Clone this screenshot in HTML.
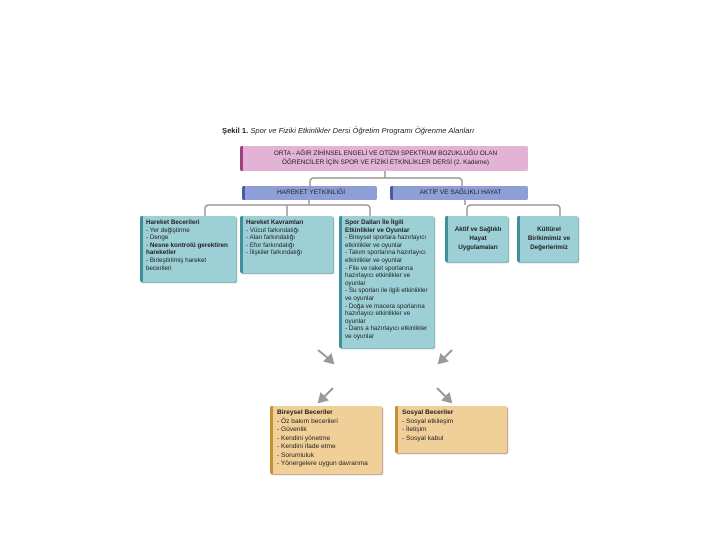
<!DOCTYPE html>
<html><head><meta charset="utf-8"><style>
body{margin:0;width:720px;height:540px;background:#fff;position:relative;font-family:"Liberation Sans",sans-serif;overflow:hidden}
.b{position:absolute;box-sizing:border-box;font-size:6.3px;line-height:7.6px;color:#222;border-radius:2px}
.t{background:#9ccfd6;border-left:3px solid #3f8f9a;box-shadow:1px 1px 1px #7aa;padding:3px 3px}
.o{background:#f1cf98;border-left:3px solid #c98d35;box-shadow:1px 1px 1px #b98;padding:3px 4px;font-size:6.6px;line-height:8.5px}
.hd{background:#8e9fd8;border-left:3px solid #4a5aa5;text-align:center;font-size:6.5px;line-height:14px}
b{font-weight:bold}
</style></head><body>
<div style="position:absolute;left:222px;top:126px;font-size:7.6px;color:#222;white-space:nowrap"><b>Şekil 1.</b> <i>Spor ve Fiziki Etkinlikler Dersi Öğretim Programı Öğrenme Alanları</i></div>
<svg width="720" height="540" style="position:absolute;left:0;top:0">
<g fill="none" stroke="#999" stroke-width="1.5">
<path d="M385 171V178M310 186V182Q310 178 314 178H458Q462 178 462 182V186"/>
<path d="M309 200V205M205 216V209Q205 205 209 205H366Q370 205 370 209V216M287 205V216"/>
<path d="M465 200V205M467 216V209Q467 205 471 205H556Q560 205 560 209V216"/>
</g>
<g stroke="#999" stroke-width="2" fill="#999">
<line x1="318" y1="350" x2="329" y2="359"/><polygon points="333,363 325,361 331,355"/>
<line x1="452" y1="350" x2="443" y2="359"/><polygon points="439,363 441,355 447,361"/>
<line x1="333" y1="388" x2="323" y2="398"/><polygon points="319,402 321,394 327,400"/>
<line x1="437" y1="388" x2="447" y2="398"/><polygon points="451,402 443,400 449,394"/>
</g></svg>
<div class="b" style="left:240px;top:146px;width:288px;height:25px;background:#e3b3d6;border-left:3px solid #a0407f;text-align:center;padding-top:3px;font-size:6.4px;line-height:9px">ORTA - AĞIR ZİHİNSEL ENGELİ VE OTİZM SPEKTRUM BOZUKLUĞU OLAN<br>ÖĞRENCİLER İÇİN SPOR VE FİZİKİ ETKİNLİKLER DERSİ (2. Kademe)</div>
<div class="b hd" style="left:242px;top:186px;width:135px;height:14px">HAREKET YETKİNLİĞİ</div>
<div class="b hd" style="left:390px;top:186px;width:138px;height:14px">AKTİF VE SAĞLIKLI HAYAT</div>
<div class="b t" style="left:140px;top:216px;width:96px;height:66px"><b>Hareket Becerileri</b><br>- Yer değiştirme<br>- Denge<br>- <b>Nesne kontrolü gerektiren hareketler</b><br>- Birleştirilmiş hareket becerileri</div>
<div class="b t" style="left:240px;top:216px;width:93px;height:57px"><b>Hareket Kavramları</b><br>- Vücut farkındalığı<br>- Alan farkındalığı<br>- Efor farkındalığı<br>- İlişkiler farkındalığı</div>
<div class="b t" style="left:339px;top:216px;width:95px;height:132px"><b>Spor Dalları İle İlgili Etkinlikler ve Oyunlar</b><br>- Bireysel sporlara hazırlayıcı etkinlikler ve oyunlar<br>- Takım sporlarına hazırlayıcı etkinlikler ve oyunlar<br>- File ve raket sporlarına hazırlayıcı etkinlikler ve oyunlar<br>- Su sporları ile ilgili etkinlikler ve oyunlar<br>- Doğa ve macera sporlarına hazırlayıcı etkinlikler ve oyunlar<br>- Dans a hazırlayıcı etkinlikler ve oyunlar</div>
<div class="b t" style="left:445px;top:216px;width:63px;height:46px;text-align:center;padding-top:9px;line-height:9px"><b>Aktif ve Sağlıklı Hayat Uygulamaları</b></div>
<div class="b t" style="left:517px;top:216px;width:61px;height:46px;text-align:center;padding-top:9px;line-height:9px"><b>Kültürel Birikimimiz ve Değerlerimiz</b></div>
<div class="b o" style="left:270px;top:406px;width:112px;height:68px"><b>Bireysel Beceriler</b><br>- Öz bakım becerileri<br>- Güvenlik<br>- Kendini yönetme<br>- Kendini ifade etme<br>- Sorumluluk<br>- Yönergelere uygun davranma</div>
<div class="b o" style="left:395px;top:406px;width:112px;height:47px"><b>Sosyal Beceriler</b><br>- Sosyal etkileşim<br>- İletişim<br>- Sosyal kabul</div>
</body></html>
